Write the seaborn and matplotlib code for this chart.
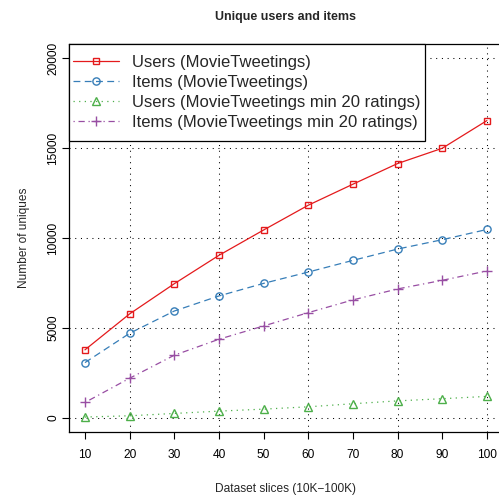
# unique users / items per dataset slice

import matplotlib
matplotlib.use('Agg')
import matplotlib.pyplot as plt
from matplotlib.patches import Rectangle
import seaborn as sns
import pandas as pd

# data
slices = [10, 20, 30, 40, 50, 60, 70, 80, 90, 100]
users = [3780, 5780, 7460, 9040, 10450, 11830, 13000, 14150, 15000, 16540]
items = [3070, 4700, 5940, 6780, 7480, 8110, 8760, 9390, 9910, 10480]
users_min20 = [40, 110, 240, 370, 480, 610, 780, 940, 1060, 1190]
items_min20 = [850, 2200, 3480, 4370, 5110, 5850, 6560, 7170, 7650, 8170]

labels = ['Users (MovieTweetings)', 'Items (MovieTweetings)',
          'Users (MovieTweetings min 20 ratings)',
          'Items (MovieTweetings min 20 ratings)']
colors = ['#E41A1C', '#377EB8', '#4DAF4A', '#984EA3']

sns.set_style('white')
plt.rcParams['font.family'] = ['Liberation Sans', 'DejaVu Sans']

fig = plt.figure(figsize=(4.99, 4.95), dpi=100)
ax = fig.add_axes([0.138, 0.127, 0.870, 0.784])

# dotted grid like R's grid()
grid_ls = (0, (1, 4.5))
for gx in [20, 40, 60, 80, 100]:
    ax.axvline(gx, color='black', lw=0.75, linestyle=grid_ls, zorder=1)
for gy in [0, 5000, 10000, 15000, 20000]:
    ax.axhline(gy, color='black', lw=0.75, linestyle=grid_ls, zorder=1)

series = [users, items, users_min20, items_min20]
styles = ['-', (0, (5.5, 3.5)), (0, (1, 3.5)), (0, (1, 3, 5, 3))]
markers = ['s', 'o', '^', '+']
msizes = [4.8, 5.2, 5.8, 6.5]

for vals, lab, col, ls, mk, ms in zip(series, labels, colors, styles, markers, msizes):
    df = pd.DataFrame({'x': slices, 'y': vals})
    sns.lineplot(data=df, x='x', y='y', ax=ax, color=col, linestyle=ls,
                 marker=mk, markersize=ms, markerfacecolor='none',
                 markeredgecolor=col, markeredgewidth=1.0, lw=0.9,
                 label=lab, zorder=3)

ax.set_xlim(6.4, 103.6)
ax.set_ylim(-800, 20800)
ax.set_xticks(slices)
ax.set_yticks([0, 5000, 10000, 15000, 20000])
ax.tick_params(axis='both', direction='out', length=5, width=0.8,
               labelsize=8.6, color='black', labelcolor='black',
               bottom=True, left=True)
ax.tick_params(axis='x', pad=7)
ax.tick_params(axis='y', pad=2, labelrotation=90)
for lbl in ax.get_yticklabels():
    lbl.set_va('center')
for s in ax.spines.values():
    s.set_color('black')
    s.set_linewidth(0.9)

ax.set_xlabel('Dataset slices (10K\u2212100K)', fontsize=8.6, labelpad=16)
ax.set_ylabel('Number of uniques', fontsize=8.6, labelpad=12)
ax.set_title('Unique users and items', fontsize=9, fontweight='bold', pad=17)

# R legends have more room above/below than at the sides: draw the box by hand
extra = 6.7  # px added above and below
ax_h = ax.get_window_extent().height
leg = ax.legend(loc='upper left', bbox_to_anchor=(0, 1 - extra / ax_h),
                borderaxespad=0, fontsize=12, handlelength=2.75,
                handletextpad=0.8, labelspacing=0.3, borderpad=0.25,
                frameon=False)
leg.set_zorder(5)
fig.canvas.draw()
bb = leg.get_window_extent().transformed(ax.transAxes.inverted())
pad = extra / ax_h
ax.add_patch(Rectangle((bb.x0, bb.y0 - pad), bb.width, bb.height + 2 * pad,
                       transform=ax.transAxes, facecolor='white',
                       edgecolor='black', lw=0.9, zorder=4, clip_on=False))

fig.savefig('out.png', dpi=100)
